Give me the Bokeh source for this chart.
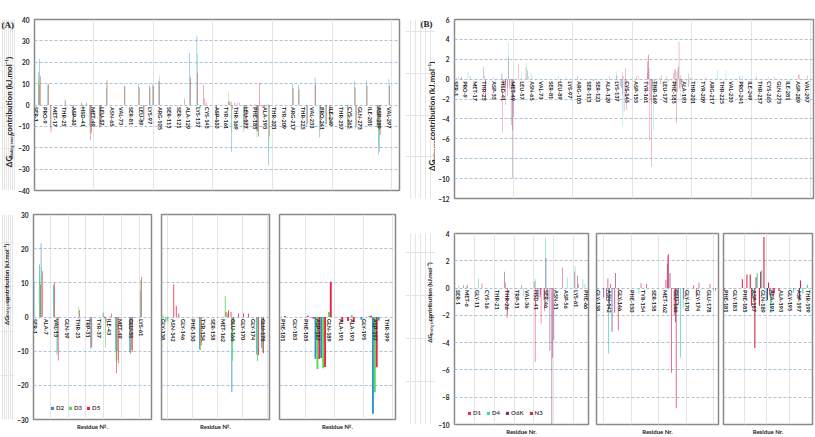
import math
from bokeh.plotting import figure
from bokeh.layouts import row, column
from bokeh.models import (ColumnDataSource, FixedTicker, Label, Legend, LegendItem,
                          Range1d, Grid, Title)
from bokeh.transform import dodge
from bokeh.core.properties import value
from bokeh.embed import file_html
from bokeh.resources import INLINE

# ---------------- data: panel (A) ----------------
A_res = [1, 4, 5, 12, 14, 26, 33, 40, 41, 44, 47, 48, 55, 56, 61, 76, 88, 92, 97, 100,
         105, 126, 131, 137, 138, 139, 140, 142, 143, 144, 153, 163, 164, 165, 166, 168,
         170, 172, 176, 178, 181, 185, 186, 187, 188, 189, 191, 192, 193, 195, 196, 197,
         198, 217, 222, 229, 236, 240, 245, 248, 263, 269, 270, 279, 288, 289, 290, 298]
A_D2 = [10.2, 15.4, 21.6, 9.5, -11.0, -0.5, -9.2, 1.3, -0.5, 0.2, -9.8, -10.0, -10.2, -9.5, 7.8,
        8.5, 10.0, -7.5, 9.2, 9.6, 11.3, 0.0, 24.3, 32.5, 0.0, 0.0, -1.0, 0.0, 0.0, 0.0,
        -9.5, 0.0, 0.0, 0.0, -22.0, 0.0, 0.0, 0.0, -11.0, -9.0, 0.0, 0.0, 0.0, -12.2, -12.0,
        0.0, 0.0, 0.0, 0.0, -0.8, 0.0, -28.3, -1.0, 10.0, 9.3, -10.0, 13.0, -15.2, -9.5, -9.3,
        -11.5, 11.0, -11.0, 11.5, -10.0, -23.0, -22.0, 12.0]
A_D3 = [0.0, 11.7, 14.5, 9.3, -10.0, 2.9, -8.6, 0.8, -9.0, 0.1, -13.0, -12.5, -10.4, -9.8, 10.8,
        9.0, 8.7, -6.8, 8.5, 8.8, 13.8, 0.0, 13.4, 24.0, 0.5, -1.5, -1.5, 0.0, 0.0, 0.0,
        -9.8, 6.2, 1.2, 0.0, -12.8, 0.0, 0.0, 0.0, -12.9, -10.3, 0.0, 0.0, 0.0, -15.2, -15.0,
        1.5, 0.0, 0.0, 0.5, 0.0, 0.3, -22.0, 0.0, 8.2, 7.4, -8.5, 9.5, -11.0, -9.0, -8.5,
        -10.5, 8.5, -10.5, 9.2, -9.0, -20.0, -16.0, 9.5]
A_D5 = [0.0, 9.5, 13.4, 10.0, -12.7, 2.0, -9.0, 0.2, -1.5, 1.0, -16.4, -13.5, -10.8, -10.2, 11.7,
        8.8, 8.3, -7.0, 8.3, 9.0, 11.0, 3.0, 12.8, 15.0, 0.0, 0.0, 0.0, 9.5, 3.2, 1.0,
        -8.3, 1.5, 2.0, 1.5, -2.0, 1.0, 1.1, 1.0, -11.2, -10.6, 0.3, 0.4, -0.5, -12.3, -14.6,
        10.3, -1.5, -1.2, -1.5, 0.0, 0.4, -14.7, 0.0, 7.8, 7.2, -9.0, 9.4, -10.0, -8.8, -9.0,
        -11.0, 8.1, -9.5, 9.0, -8.0, -12.0, -14.0, 9.0]

# ---------------- data: panel (B) ----------------
B_res = [1, 2, 4, 6, 12, 14, 25, 26, 27, 34, 35, 40, 41, 42, 43, 44, 45, 46, 47, 48, 49, 50,
         55, 57, 61, 62, 63, 65, 66, 88, 90, 95, 104, 117, 131, 137, 138, 140, 141, 142, 143,
         144, 145, 153, 154, 156, 163, 164, 165, 166, 167, 168, 169, 173, 174, 175, 179, 180,
         181, 185, 186, 187, 188, 189, 190, 191, 192, 193, 196, 197, 198, 199, 205, 212, 222,
         229, 240, 243, 255, 265, 270, 283, 290, 298]
B_D1 = [0.0, 0.0, 0.0, 0.1, 0.0, 0.35, 0.0, 0.4, -2.0, 0.2, 0.0, 0.0, -5.4, -0.6, 0.0, -2.6,
        0.0, 0.0, -0.6, 0.0, 0.0, 0.0, 1.5, 0.0, 1.2, 0.0, 0.3, 0.0, 0.0, 0.0, -0.4, 0.0,
        0.0, 0.0, 0.3, 0.0, 0.0, 0.0, 0.0, 0.7, 0.3, 0.0, 0.0, 0.0, 0.35, 0.3, 0.6, 2.5,
        -6.2, -2.0, 0.0, 0.0, 0.0, 0.2, -0.5, 0.4, 0.3, 0.0, -0.2, 0.65, 1.0, -1.3, 0.8,
        1.2, 0.0, -0.5, -0.4, -0.2, 0.0, 0.0, 0.0, 0.0, 0.0, 0.2, 0.0, 0.0, 0.0, 0.0, 0.3,
        0.0, 0.25, 0.0, 0.5, 0.4]
B_D4 = [-0.4, 0.2, 0.0, 0.0, 0.7, 0.0, 0.0, 0.0, 0.0, 0.0, -0.6, 0.0, 0.65, 0.0, 0.0, 0.0,
        0.0, 3.7, 0.0, 0.0, 0.0, 0.0, 0.0, 0.75, 1.6, 0.0, 0.0, 0.65, 0.3, 0.3, 0.0, 0.3,
        0.0, -0.2, 0.0, 0.8, -0.2, 0.0, 0.0, -4.8, 0.0, 0.0, 0.0, -0.4, 0.0, 0.0, 0.0, 0.0,
        0.0, 0.0, -0.8, -5.1, -1.5, 0.0, 0.0, 0.0, 0.0, -0.2, 0.0, 0.0, 0.0, -0.5, 1.1,
        1.3, -1.0, -1.8, 0.0, 0.0, -0.3, 0.0, -0.4, 0.25, -0.3, 0.0, 0.9, 0.9, 0.0, 0.4, 0.0,
        0.3, 0.0, -0.3, 0.0, 0.0]
B_O6K = [0.0, 0.0, 0.2, 0.25, 0.0, 0.0, 1.2, 0.0, 0.0, 0.0, 0.0, 0.5, 0.0, -0.8, -0.7, 0.0,
         -0.9, 2.2, -1.0, -4.6, -10.0, -3.8, 0.0, 0.0, 0.0, 0.9, 0.0, 0.0, 0.0, 0.0, 0.0, 0.0,
         0.3, -0.2, 0.0, 0.4, 0.0, -0.7, -0.9, -1.5, -3.2, -1.8, 0.0, 0.0, 0.0, 0.0, 1.8, 1.1,
         0.0, -2.5, -1.2, 0.0, -0.8, 0.0, 0.0, 0.0, 0.0, 0.0, 0.0, 0.0, 0.0, 0.0, 0.0,
         0.0, -0.9, 0.0, 0.0, 0.0, 0.0, -0.8, 0.0, 0.0, 0.0, 0.0, 0.0, 0.0, 0.3, 0.0, 0.0,
         0.0, 0.0, 0.0, 0.0, 0.0]
B_N3 = [0.0, 0.0, 0.0, 0.0, 0.0, 0.0, 0.0, -2.2, 0.0, 0.0, 0.0, 0.0, 0.0, 0.0, -0.5, 0.0,
        -1.7, 0.0, 0.0, 0.0, -5.1, 0.0, 0.0, 0.0, 0.0, 0.0, 0.0, 0.0, 0.0, 0.0, 0.0, 0.0,
        0.0, 0.0, 0.0, 0.0, 0.0, 0.0, 0.0, 0.0, 0.0, 1.1, -3.1, 0.0, 0.0, 0.0, 2.4, 0.0,
        0.0, -8.8, 0.0, 0.0, 0.0, 0.0, 0.0, 0.0, 0.0, 0.0, 0.0, 0.0, 1.0, -4.4, -1.3,
        3.75, 0.4, -0.7, 0.0, 0.0, 0.0, 0.55, 0.0, 0.0, 0.0, 0.0, 0.0, 0.0, 0.0, 0.0, 0.0,
        0.0, 0.0, 0.0, 0.45, 0.0]

# ---------------- tick labels ----------------
TOP_LABELS = ["SER-1", "PRO-9", "MET-17", "THR-25", "ASP-33", "HSD-41", "MET-49", "LEU-57",
              "ASN-65", "VAL-73", "SER-81", "LEU-89", "LYS-97", "ARG-105", "SER-113", "SER-121",
              "ALA-129", "LYS-137", "CYS-145", "ASP-153", "TYR-161", "THR-169", "LEU-177",
              "PHE-185", "ALA-193", "THR-201", "TYR-209", "ARG-217", "THR-225", "VAL-233",
              "PRO-241", "ILE-249", "THR-257", "CYS-265", "GLN-273", "ILE-281", "ASP-289", "VAL-297"]
A1_LABELS = ["SER-1", "ALA-7", "VAL-13", "GLN-19", "THR-25", "TRP-31", "TYR-37", "ILE-43",
             "MET-49", "GLU-55", "LYS-61"]
MID_LABELS = ["GLY-138", "ASN-142", "GLY-146", "PHE-150", "TYR-154", "SER-158", "MET-162",
              "GLU-166", "GLY-170", "GLY-174", "GLU-178"]
RIGHT_LABELS = ["PHE-181", "GLY-183", "PHE-185", "ASP-187", "GLN-189", "ALA-191", "ALA-193",
                "GLY-195", "ASP-197", "THR-199"]
B1_LABELS = ["SER-1", "MET-6", "GLY-11", "CYS-16", "THR-21", "THR-26", "TRP-31", "VAL-36",
             "HSD-41", "SER-46", "ASN-51", "ASP-56", "LYS-61", "PHE-66"]
A_TICKS_TOP = [-40, -30, -20, -10, 0, 10, 20, 30, 40]
A_TICKS_BOT = [-30, -20, -10, 0, 10, 20, 30]
B_TICKS_TOP = [-12, -10, -8, -6, -4, -2, 0, 2, 4, 6]
B_TICKS_BOT = [-10, -8, -6, -4, -2, 0, 2, 4]

A_NAMES = ["D2", "D3", "D5"]
A_COLORS = ["#2f8fd2", "#4fe04f", "#ee2247"]
B_NAMES = ["D1", "D4", "O6K", "N3"]
B_COLORS = ["#ee2a55", "#3ed6b0", "#74307e", "#d02a4c"]

TXT = "#222222"
FONT = "Lato"


def panel(res, series, names, colors, bw, xr, yr, yticks, fw, fh, bl, br, bt, bb,
          labels, show_y, lab_fs="5.5px", tick_fs="6.5px"):
    lo, hi = xr
    idx = [i for i, r in enumerate(res) if lo <= r <= hi]
    data = {"res": [res[i] for i in idx]}
    for nm, s in zip(names, series):
        data[nm] = [s[i] for i in idx]
    src = ColumnDataSource(data)
    p = figure(width=fw + bl + br, height=fh + bt + bb,
               x_range=Range1d(lo, hi), y_range=Range1d(yr[0], yr[1]),
               output_backend="svg", toolbar_location=None, title=None,
               x_axis_location=None, y_axis_location=("left" if show_y else None),
               min_border_left=bl, min_border_right=br, min_border_top=bt, min_border_bottom=bb,
               background_fill_color="white", border_fill_color="white",
               outline_line_color="#8a8a8a", outline_line_width=1.5)
    p.ygrid.grid_line_color = None
    p.add_layout(Grid(dimension=1, ticker=FixedTicker(ticks=yticks),
                      grid_line_color="#a9c3da", grid_line_dash="3 2", grid_line_width=1))
    n = len(names)
    rends = []
    for k, (nm, c) in enumerate(zip(names, colors)):
        off = (k - (n - 1) / 2) * bw
        r = p.vbar(x=dodge("res", off), top=nm, bottom=0, width=bw, source=src,
                   fill_color=c, line_color=None)
        rends.append(r)
    if show_y:
        ax = p.yaxis[0]
        ax.ticker = FixedTicker(ticks=yticks)
        ax.axis_line_color = None
        ax.major_tick_line_color = None
        ax.minor_tick_line_color = None
        ax.major_tick_in = 0
        ax.major_tick_out = 0
        ax.major_label_standoff = 5
        ax.major_label_text_font = FONT
        ax.major_label_text_font_style = "bold"
        ax.major_label_text_font_size = tick_fs
        ax.major_label_text_color = TXT
    nums = [int(s.split("-")[1]) for s in labels]
    p.text(x=nums, y=[0] * len(nums), text=labels, angle=-math.pi / 2,
           text_align="left", text_baseline="middle", y_offset=2, x_offset=0.5,
           text_font=value(FONT), text_font_style="bold", text_font_size=lab_fs,
           text_color=TXT)
    return p, rends


def label_fig(w, h):
    """Narrow side strip (frame = whole canvas, 1 unit = 1 px) holding the y-axis title."""
    p = figure(width=w, height=h, x_range=Range1d(0, w), y_range=Range1d(0, h),
               output_backend="svg", toolbar_location=None, title=None,
               x_axis_location=None, y_axis_location=None,
               min_border_left=0, min_border_right=0, min_border_top=0, min_border_bottom=0,
               outline_line_color=None, background_fill_color="white",
               border_fill_color="white")
    return p


def ylab(p, x, y_dg, y_sub, y_con, fs, fs_sub, dx_sub):
    common = dict(angle=math.pi / 2, text_font=FONT, text_font_style="bold",
                  text_baseline="middle", text_align="left", text_color=TXT)
    p.add_layout(Label(x=x, y=y_dg, text="ΔG", text_font_size=f"{fs}px", **common))
    p.add_layout(Label(x=x + dx_sub, y=y_sub, text="Binding energy",
                       text_font_size=f"{fs_sub}px", **common))
    p.add_layout(Label(x=x, y=y_con, text="contribution (kJ.mol⁻¹)",
                       text_font_size=f"{fs}px", **common))


def xlab(p, text, standoff):
    p.add_layout(Title(text=text, align="center", text_font=FONT, text_font_style="bold",
                       text_font_size="6px", text_color=TXT, standoff=standoff), "below")


def legend(p, rends, names, loc, spacing):
    lg = Legend(items=[LegendItem(label=nm, renderers=[r]) for nm, r in zip(names, rends)],
                location=loc, orientation="horizontal", glyph_width=4, glyph_height=4,
                label_standoff=2, spacing=spacing, padding=0, margin=0,
                label_text_font=FONT, label_text_font_style="bold", label_text_font_size="6px",
                label_height=6, label_width=0, background_fill_alpha=0, border_line_color=None)
    p.add_layout(lg)


A_SER = [A_D2, A_D3, A_D5]
B_SER = [B_D1, B_D4, B_O6K, B_N3]
BW_A = 0.33
BW_B = 0.245

# ---- panel A ----
lfa_top = label_fig(15, 205)
ylab(lfa_top, 8, 28, 38, 66, 8, 4, 2.5)
lfa_top.add_layout(Label(x=1, y=199, text="(A)", text_font="Liberation Serif",
                         text_font_style="bold", text_font_size="9px",
                         text_baseline="middle", text_color=TXT))
a_top, _ = panel(A_res, A_SER, A_NAMES, A_COLORS, BW_A, (0.5, 306.5), (-40, 40), A_TICKS_TOP,
                 367, 171, 17, 6, 19, 15, TOP_LABELS, True)

lfa_bot = label_fig(14, 232)
ylab(lfa_bot, 5.5, 107, 116, 132, 6, 3, 2)
a1, a1r = panel(A_res, A_SER, A_NAMES, A_COLORS, BW_A, (0.4, 67.0), (-30, 30), A_TICKS_BOT,
                121, 205, 16, 5, 9, 18, A1_LABELS, True)
xlab(a1, "Residue №.", 3)
legend(a1, a1r, A_NAMES, (17, 8), 4)
a2, _ = panel(A_res, A_SER, A_NAMES, A_COLORS, BW_A, (137.4, 180.8), (-30, 30), A_TICKS_BOT,
              108, 205, 5, 5, 9, 18, MID_LABELS, False)
xlab(a2, "Residue №.", 3)
a3, _ = panel(A_res, A_SER, A_NAMES, A_COLORS, BW_A, (180.4, 200.6), (-30, 30), A_TICKS_BOT,
              116, 205, 5, 10, 9, 18, RIGHT_LABELS, False)
xlab(a3, "Residue №.", 3)

# ---- panel B ----
lfb_top = label_fig(30, 215)
ylab(lfb_top, 26, 33, 43, 70, 8, 4, 2.5)
lfb_top.add_layout(Label(x=15, y=209, text="(B)", text_font="Liberation Serif",
                         text_font_style="bold", text_font_size="9px",
                         text_baseline="middle", text_color=TXT))
b_top, _ = panel(B_res, B_SER, B_NAMES, B_COLORS, BW_B, (0.5, 302.5), (-12, 6), B_TICKS_TOP,
                 361, 179, 17, 2, 19, 17, TOP_LABELS, True)

lfb_bot = label_fig(30, 222)
ylab(lfb_bot, 24, 95, 104, 120, 6, 3, 2)
b1, b1r = panel(B_res, B_SER, B_NAMES, B_COLORS, BW_B, (-0.3, 67.7), (-10, 4), B_TICKS_BOT,
                137, 191, 16, 4, 18, 13, B1_LABELS, True)
xlab(b1, "Residue Nr.", 2)
legend(b1, b1r, B_NAMES, (13, 8), 5)
b2, _ = panel(B_res, B_SER, B_NAMES, B_COLORS, BW_B, (137.5, 181.7), (-10, 4), B_TICKS_BOT,
              122, 191, 4, 3, 18, 13, MID_LABELS, False)
xlab(b2, "Residue Nr.", 2)
b3, _ = panel(B_res, B_SER, B_NAMES, B_COLORS, BW_B, (180.5, 200.0), (-10, 4), B_TICKS_BOT,
              89, 191, 2, 3, 18, 13, RIGHT_LABELS, False)
xlab(b3, "Residue Nr.", 2)

layout = row(
    column(row(lfa_top, a_top), row(lfa_bot, a1, a2, a3)),
    column(row(lfb_top, b_top), row(lfb_bot, b1, b2, b3)),
)

open("out.html", "w").write(file_html(layout, INLINE))
